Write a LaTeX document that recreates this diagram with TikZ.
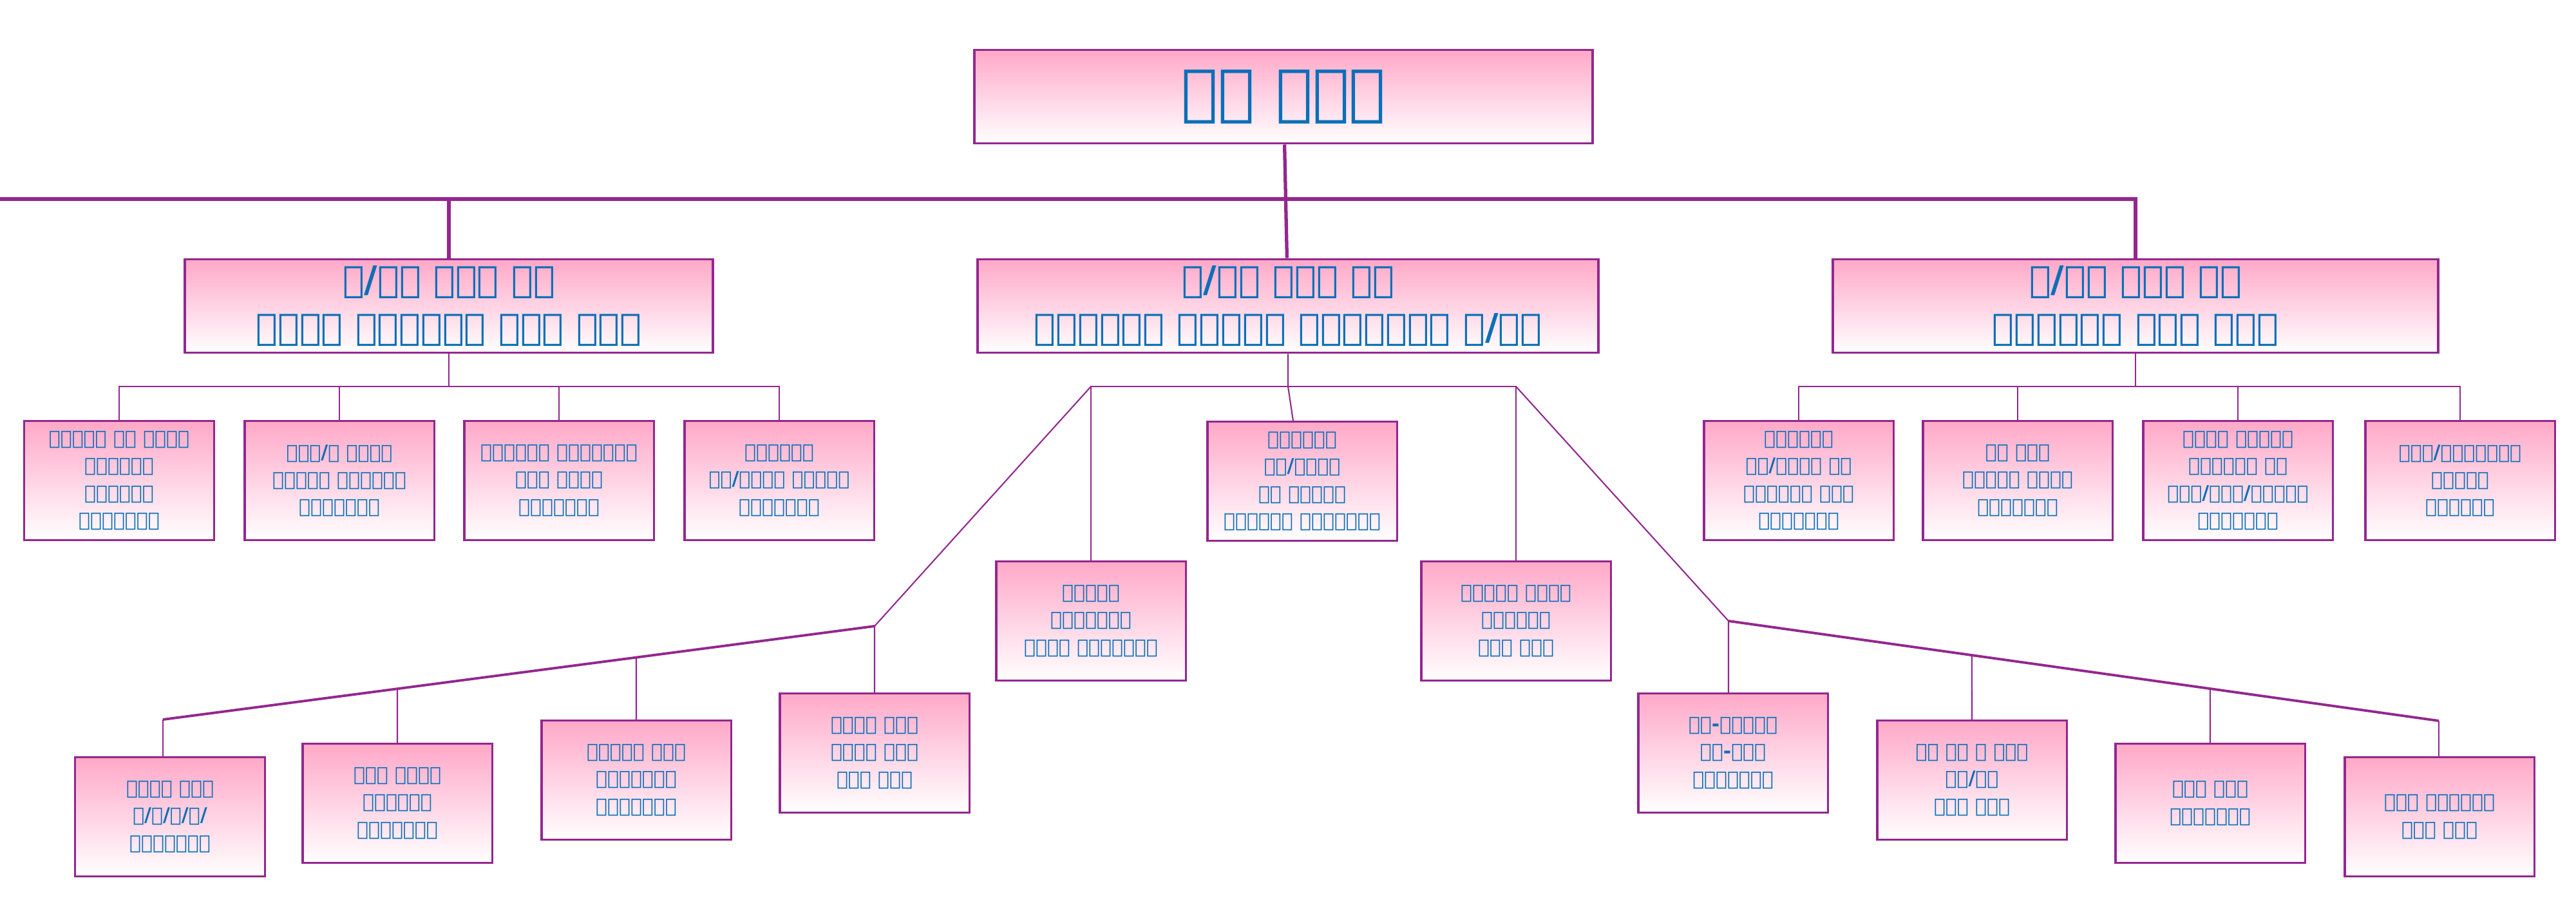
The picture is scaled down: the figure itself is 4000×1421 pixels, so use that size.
\documentclass[tikz,border=0pt]{standalone}
\usepackage{fontspec}
\newfontfamily\ethfont{DejaVu Sans}
\usetikzlibrary{calc}
\definecolor{linepurple}{HTML}{93278F}
\definecolor{boxpink}{HTML}{FFA8C8}
\definecolor{textblue}{HTML}{0B6FB8}
\tikzset{
  unit/.style={draw=linepurple, line width=1.1pt, top color=boxpink, middle color=boxpink!20, bottom color=white,
    align=center, text=textblue, font=\ethfont\bfseries, inner sep=2pt},
  headbox/.style={unit, minimum width=9.6cm, minimum height=1.45cm, font=\ethfont\bfseries\fontsize{27}{32}\selectfont},
  deputybox/.style={unit, minimum height=1.45cm, font=\ethfont\bfseries\fontsize{16}{21}\selectfont},
  dirbox/.style={unit, line width=0.9pt, minimum width=2.94cm, minimum height=1.85cm, font=\ethfont\bfseries\fontsize{8.5}{12}\selectfont},
  mainline/.style={linepurple, line width=1.5pt},
  subline/.style={linepurple, line width=0.6pt},
  busline/.style={linepurple, line width=1.1pt}
}
\begin{document}
\begin{tikzpicture}[x=0.01cm, y=-0.01cm]
\useasboundingbox (0,0) rectangle (4000,1421);
%head
\node[headbox] (head) at (1993,150) {ቢሮ ሀላፊ};
%deputies
\node[deputybox, minimum width=8.19cm] (learn) at (697,475) {ም/ቢሮ ኃላፊ እና\\መማር፣ ማስተማርና ምዘና ዘርፍ};
\node[deputybox, minimum width=9.64cm] (social) at (2000,475) {ም/ቢሮ ኃላፊ እና\\የማህበራዊ ክላስተር ማስተባበሪያ ጽ/ቤት};
\node[deputybox, minimum width=9.39cm] (devel) at (3316,475) {ም/ቢሮ ኃላፊ እና\\የትምህርት ልማት ዘርፍ};
\draw[mainline] (head) -- (social);
\draw[mainline] (learn.north) |- (0,309) coordinate (topbus) (learn.north |- topbus) -- (devel.north |- topbus) -- (devel.north);
%learning sector
\node[dirbox] (l1) at (185,746) {ትምህርት ቤት መሻሻል\\ፕሮግራምና\\ሱፐርቪዥን\\ዳይሬክቶሬት};
\node[dirbox] (l2) at (527,746) {የትም/ት ምዘናና\\ፈተናዎች አስተዳደር\\ዳይሬክቶሬት};
\node[dirbox] (l3) at (868,746) {የትምህርት አስተዳደርና\\መረጃ ሥርዓት\\ዳይሬክቶሬት};
\node[dirbox] (l4) at (1210,746) {ጎልማሶችና\\መደ/ያልሆነ ትምህርት\\ዳይሬክቶሬት};
\coordinate (lbus) at (0,600);
\draw[subline] (learn) -- (learn |- lbus);
\draw[subline] (l1.north) -- (l1.north |- lbus) -- (l4.north |- lbus) -- (l4.north);
\foreach \n in {l2,l3} \draw[subline] (\n.north) -- (\n.north |- lbus);
%development sector
\node[dirbox] (d1) at (2793,746) {መምህራን፣\\ትም/አመራር እና\\ባለሙያዎች ልማት\\ዳይሬክቶሬት};
\node[dirbox] (d2) at (3133,746) {ሙያ ፈቃድ\\አሰጣጥና ዕድሳት\\ዳይሬክቶሬት};
\node[dirbox] (d3) at (3475,746) {ሥርዓተ ትምህርት\\ማበልፀጊያ እና\\የትም/መሳሪ/አቅርቦት\\ዳይሬክቶሬት};
\node[dirbox] (d4) at (3820,746) {ኢንፎ/ኮሙዩኒኬሽን\\ቴክኖሎጂ\\ዳይሬክቶሬ};
\draw[subline] (devel) -- (devel |- lbus);
\draw[subline] (d1.north) -- (d1.north |- lbus) -- (d4.north |- lbus) -- (d4.north);
\foreach \n in {d2,d3} \draw[subline] (\n.north) -- (\n.north |- lbus);
%social cluster office
\node[dirbox] (s0) at (2022,747) {መምህራን፣\\ትም/አመራር\\እና ሠራተኞች\\አስተዳደር ዳይሬክቶሬት};
\node[dirbox] (sl) at (1694,964) {መንግስት\\ኮሙዩኒኬሽን\\ጉዳዮች ዳይሬክቶሬት};
\node[dirbox] (sr) at (2354,964) {ሪከርድና ማህደር\\አገልግሎት\\የስራ ክፍል};
\draw[subline] (social) -- (social |- lbus) -- (s0);
\draw[subline] (sl.north) -- (sl.north |- lbus) -- (sr.north |- lbus) -- (sr.north);
%left branch
\node[dirbox] (a1) at (264,1268) {እቅድና በጀት\\ዝ/ክ/ግ/ግ/\\ዳይሬክቶሬት};
\node[dirbox] (a2) at (617,1247) {ግዢና ንብረት\\አስተዳደር\\ዳይሬክቶሬት};
\node[dirbox] (a3) at (988,1211) {ትምህርት ጥራት\\ኢንስፔክሽን\\ዳይሬክቶሬት};
\node[dirbox] (a4) at (1358,1169) {ስርዓተ ፆታና\\ህፃናት ጉዳይ\\የስራ ክፍል};
\coordinate (akink) at (1358,972);
\coordinate (aend) at (253,1117);
\draw[subline] (sl.north |- lbus) -- (akink) -- (a4.north);
\draw[busline] (akink) -- (aend);
\draw[subline] (aend) -- (aend |- a1.north);
\foreach \n in {a2,a3} \draw[subline] (\n.north) -- (intersection of akink--aend and \n.north--\n.south);
%right branch
\node[dirbox] (b1) at (2691,1169) {ስነ-ምግባርና\\ፀረ-ሙስና\\ዳይሬክቶሬት};
\node[dirbox] (b2) at (3062,1211) {ኤች አይ ቪ ኤድስ\\መከ/መቆ\\የስራ ክፍል};
\node[dirbox] (b3) at (3432,1247) {ውስጥ ኦዲት\\ዳይሬክቶሬት};
\node[dirbox] (b4) at (3788,1268) {የጋራ አገልግሎት\\የስራ ክፍል};
\coordinate (bkink) at (2684,964);
\coordinate (bend) at (3787,1119);
\draw[subline] (sr.north |- lbus) -- (bkink) -- (bkink |- b1.north);
\draw[busline] (bkink) -- (bend);
\draw[subline] (bend) -- (bend |- b4.north);
\foreach \n in {b2,b3} \draw[subline] (\n.north) -- (intersection of bkink--bend and \n.north--\n.south);
\end{tikzpicture}
\end{document}
